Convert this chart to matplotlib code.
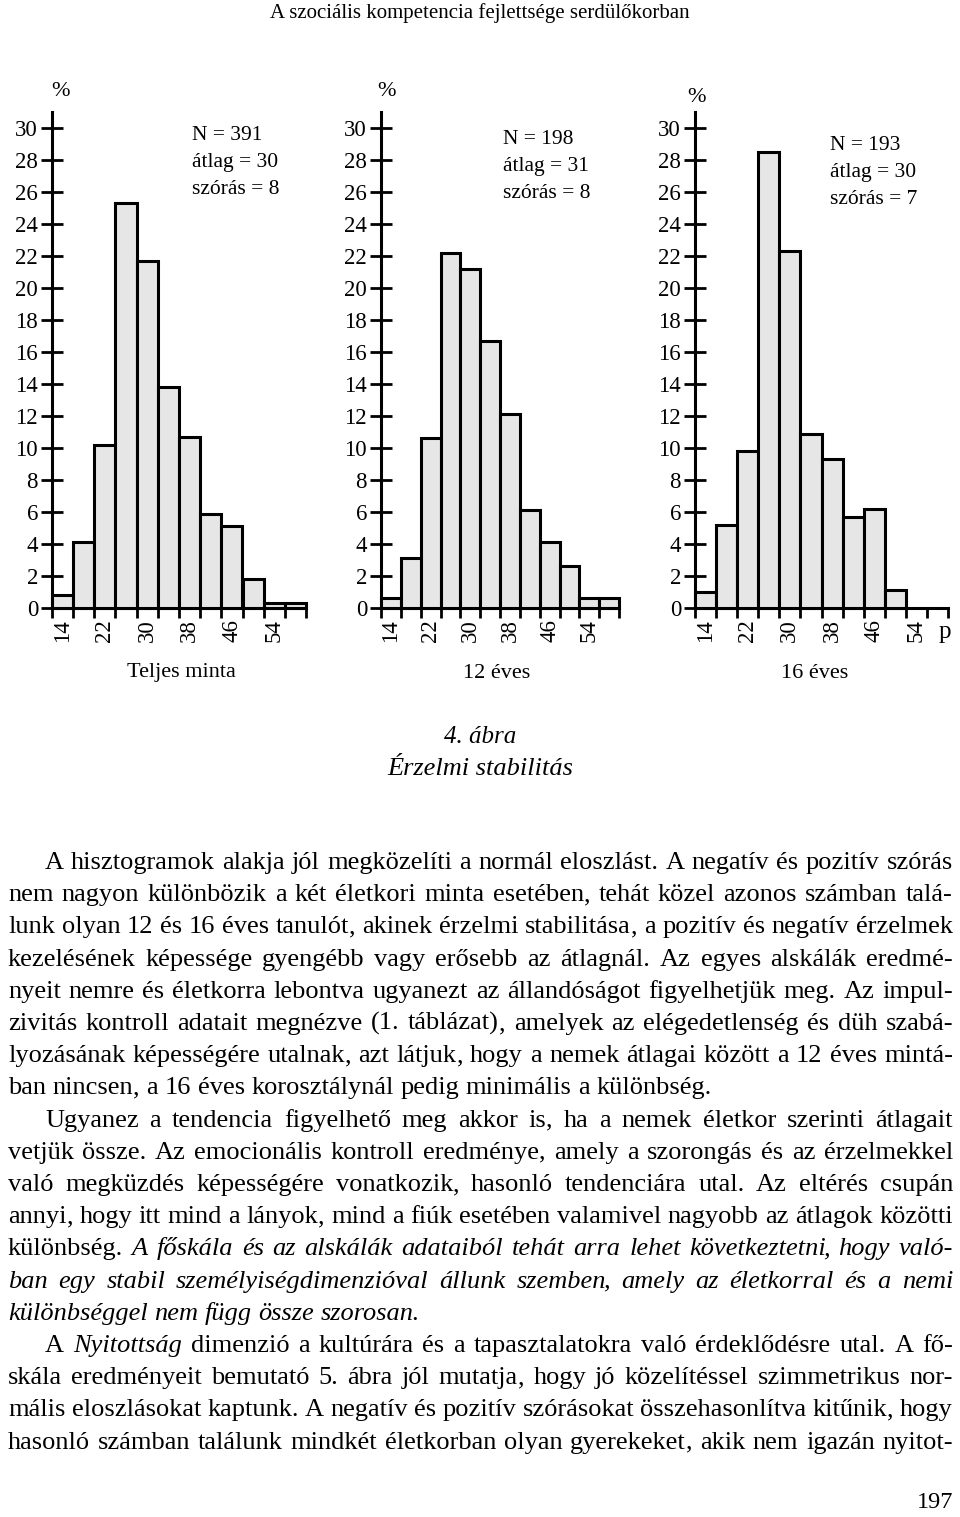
import matplotlib
matplotlib.use("Agg")
import matplotlib.pyplot as plt
import numpy as np

plt.rcParams['font.family'] = ['Liberation Serif', 'DejaVu Serif']

W, H = 960, 1517

# bin edges (pont), 4 pontos sávok
edges = np.arange(14, 63, 4)
label_ticks = ["14", "22", "30", "38", "46", "54"]

# százalékos gyakoriságok (leolvasva)
teljes = [0.8, 4.1, 10.2, 25.3, 21.7, 13.8, 10.7, 5.9, 5.1, 1.8, 0.3, 0.3]
eves12 = [0.6, 3.1, 10.6, 22.2, 21.2, 16.7, 12.1, 6.1, 4.1, 2.6, 0.6, 0.6]
eves16 = [1.0, 5.2, 9.8, 28.5, 22.3, 10.9, 9.3, 5.7, 6.2, 1.1]

panel_names = ["Teljes minta", "12 éves", "16 éves"]
panel_stats = [("N = 391", "átlag = 30", "szórás = 8"),
               ("N = 198", "átlag = 31", "szórás = 8"),
               ("N = 193", "átlag = 30", "szórás = 7")]

fig = plt.figure(figsize=(W / 100, H / 100), dpi=100)
fig.patch.set_facecolor("white")
renderer = fig.canvas.get_renderer()


def fx(x):
    return x / W


def fy(y):
    return 1 - y / H


def ftext(x, y, s, **kw):
    return fig.text(fx(x), fy(y), s, **kw)


ftext(480, 13, "A szociális kompetencia fejlettsége serdülőkorban",
      fontsize=15, ha="center", va="center")

# (bal x, jobb x) pixelben; y=0 -> 608, y=31 -> 112
panel_px = [(52, 306), (381, 619), (695, 948)]
stat_pos = [(192, 136), (503, 140), (830, 145)]
pct_pos = [(60, 92), (386, 92), (697, 97)]
label_x = [181, 497, 815]
series = [teljes, eves12, eves16]

for i, ((x0, x1), vals) in enumerate(zip(panel_px, series)):
    ax = fig.add_axes([fx(x0), fy(608), (x1 - x0) / W, (608 - 112) / H])
    ax.set_xlim(14, 62)
    ax.set_ylim(0, 31)
    ax.bar(edges[:len(vals)], vals, width=4, align="edge", facecolor="#e6e6e6",
           edgecolor="black", linewidth=2.2, clip_on=False, zorder=3)
    for s in ("top", "right"):
        ax.spines[s].set_visible(False)
    for s in ("left", "bottom"):
        ax.spines[s].set_linewidth(2.2)
    ax.set_yticks(np.arange(0, 31, 2))
    ax.tick_params(axis="y", direction="inout", length=16, width=2, labelsize=16.5, pad=2)
    ax.set_xticks(edges)
    ax.set_xticklabels([])
    ax.tick_params(axis="x", which="major", direction="out", length=7, width=2)
    ax.set_xticks(edges[:-1:2] + 2, minor=True)
    ax.set_xticklabels(label_ticks, minor=True, rotation=90, fontsize=16.5)
    ax.tick_params(axis="x", which="minor", length=0, pad=8)
    ax.patch.set_alpha(0)

    ftext(*pct_pos[i], "%", fontsize=16, ha="center", va="center")
    sx, sy = stat_pos[i]
    for k, line in enumerate(panel_stats[i]):
        ftext(sx, sy + k * 27, line, fontsize=15.5, ha="left", va="center")
    ftext(label_x[i], 673, panel_names[i], fontsize=16, ha="center", va="center")

ftext(945, 632, "p", fontsize=18, ha="center", va="center")

ftext(480, 737, "4. ábra", fontsize=18, style="italic", ha="center", va="center")
ftext(480, 769, "Érzelmi stabilitás", fontsize=19, style="italic", ha="center", va="center")

# szöveg: *...* = dőlt; (behúzás, sorkizárt)
lines = [
    (True, True, "A hisztogramok alakja jól megközelíti a normál eloszlást. A negatív és pozitív szórás"),
    (False, True, "nem nagyon különbözik a két életkori minta esetében, tehát közel azonos számban talá-"),
    (False, True, "lunk olyan 12 és 16 éves tanulót, akinek érzelmi stabilitása, a pozitív és negatív érzelmek"),
    (False, True, "kezelésének képessége gyengébb vagy erősebb az átlagnál. Az egyes alskálák eredmé-"),
    (False, True, "nyeit nemre és életkorra lebontva ugyanezt az állandóságot figyelhetjük meg. Az impul-"),
    (False, True, "zivitás kontroll adatait megnézve (1. táblázat), amelyek az elégedetlenség és düh szabá-"),
    (False, True, "lyozásának képességére utalnak, azt látjuk, hogy a nemek átlagai között a 12 éves mintá-"),
    (False, False, "ban nincsen, a 16 éves korosztálynál pedig minimális a különbség."),
    (True, True, "Ugyanez a tendencia figyelhető meg akkor is, ha a nemek életkor szerinti átlagait"),
    (False, True, "vetjük össze. Az emocionális kontroll eredménye, amely a szorongás és az érzelmekkel"),
    (False, True, "való megküzdés képességére vonatkozik, hasonló tendenciára utal. Az eltérés csupán"),
    (False, True, "annyi, hogy itt mind a lányok, mind a fiúk esetében valamivel nagyobb az átlagok közötti"),
    (False, True, "különbség. *A főskála és az alskálák adataiból tehát arra lehet következtetni, hogy való-"),
    (False, True, "ban egy stabil személyiségdimenzióval állunk szemben, amely az életkorral és a nemi"),
    (False, False, "különbséggel nem függ össze szorosan*."),
    (True, True, "A *Nyitottság* dimenzió a kultúrára és a tapasztalatokra való érdeklődésre utal. A fő-"),
    (False, True, "skála eredményeit bemutató 5. ábra jól mutatja, hogy jó közelítéssel szimmetrikus nor-"),
    (False, True, "mális eloszlásokat kaptunk. A negatív és pozitív szórásokat összehasonlítva kitűnik, hogy"),
    (False, True, "hasonló számban találunk mindkét életkorban olyan gyerekeket, akik nem igazán nyitot-"),
]

FS = 19
LEFT, RIGHT, INDENT = 8, 953, 37
BASE0, STEP = 869, 32.2


def parse(line, italic):
    # szavak -> (szöveg, dőlt) darabok; a vessző külön darab (alapvonal miatt)
    words, cur, seg = [], [], ""
    for ch in line:
        if ch == "*":
            if seg:
                cur.append((seg, italic))
            seg = ""
            italic = not italic
        elif ch == " ":
            if seg:
                cur.append((seg, italic))
            seg = ""
            if cur:
                words.append(cur)
            cur = []
        elif ch == ",":
            if seg:
                cur.append((seg, italic))
            cur.append((",", italic))
            seg = ""
        else:
            seg += ch
    if seg:
        cur.append((seg, italic))
    if cur:
        words.append(cur)
    return words, italic


italic_state = False
space_w = 0.25 * FS * 100 / 72
for n, (indent, justify, line) in enumerate(lines):
    y = BASE0 + n * STEP
    words, italic_state = parse(line, italic_state)
    objs = []
    total = 0
    for w in words:
        parts = []
        for k, (txt, it) in enumerate(w):
            t = ftext(0, y, txt, fontsize=FS, style="italic" if it else "normal",
                      ha="left", va="baseline")
            wd = t.get_window_extent(renderer).width
            if it and k < len(w) - 1:
                wd -= 3  # dőlt betű túlnyúlása
            parts.append((t, wd))
            total += wd
        objs.append(parts)
    x = LEFT + (INDENT if indent else 0)
    gap = (RIGHT - x - total) / (len(objs) - 1) if justify else space_w
    gap = max(gap, 2.5)
    for parts in objs:
        for t, wd in parts:
            t.set_x(fx(x))
            x += wd
        x += gap

ftext(953, 1503, "197", fontsize=17.5, ha="right", va="center")

fig.savefig("out.png", dpi=100)
